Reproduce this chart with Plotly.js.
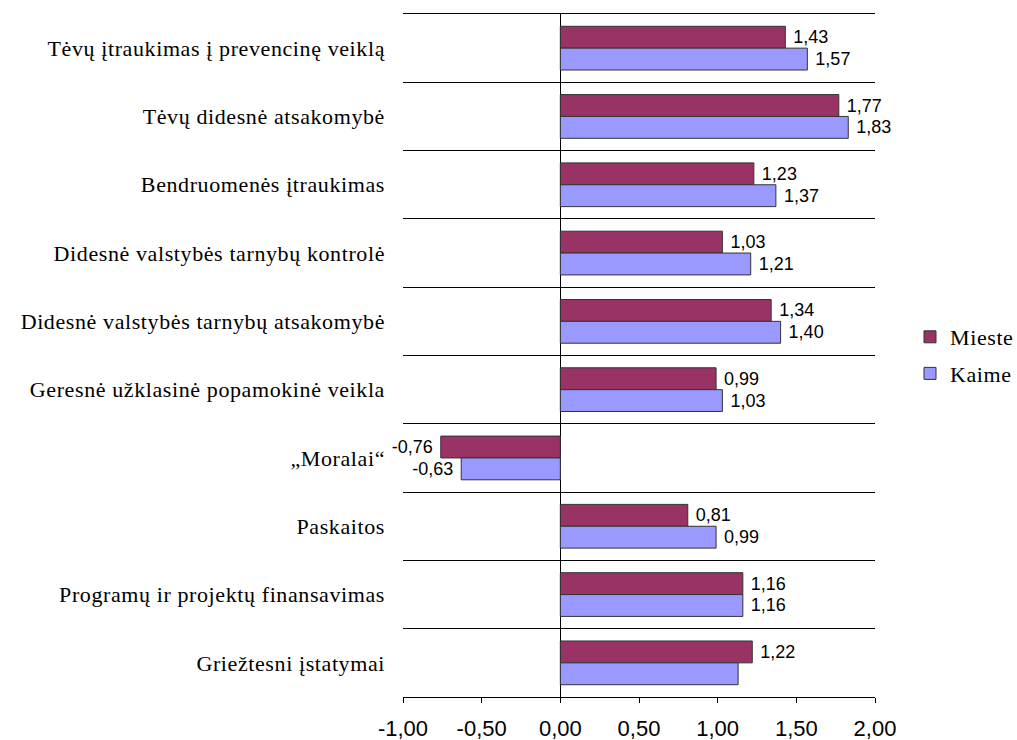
<!DOCTYPE html>
<html>
<head>
<meta charset="utf-8">
<script src="https://cdn.plot.ly/plotly-3.0.1.min.js"></script>
<style>
html,body{margin:0;padding:0;background:#fff}
#chart{width:1017px;height:740px}
#chart .ytick text, #chart .legendtext { letter-spacing: 0.6px; }
</style>
</head>
<body>
<div id="chart"></div>
<script>
const categories = [
  "Tėvų įtraukimas į prevencinę veiklą",
  "Tėvų didesnė atsakomybė",
  "Bendruomenės įtraukimas",
  "Didesnė valstybės tarnybų kontrolė",
  "Didesnė valstybės tarnybų atsakomybė",
  "Geresnė užklasinė popamokinė veikla",
  "„Moralai“",
  "Paskaitos",
  "Programų ir projektų finansavimas",
  "Griežtesni įstatymai"
];
const mieste = [1.43, 1.77, 1.23, 1.03, 1.34, 0.99, -0.76, 0.81, 1.16, 1.22];
const kaime  = [1.57, 1.83, 1.37, 1.21, 1.40, 1.03, -0.63, 0.99, 1.16, 1.13];
const kaimeLabelShown = [true, true, true, true, true, true, true, true, true, false];
const tickVals = [-1, -0.5, 0, 0.5, 1, 1.5, 2];
const tickText = ["-1,00", "-0,50", "0,00", "0,50", "1,00", "1,50", "2,00"];

function fmt(v) {
  const s = v.toFixed(2).replace('.', ',');
  return v < 0 ? s + '\u00a0' : '\u00a0' + s;
}

const SANS = "Liberation Sans";
const SERIF = "Liberation Serif";
const labelFont = {family: SANS, size: 18, color: '#000'};

const traces = [
  {
    type: 'bar', orientation: 'h', name: 'Mieste',
    y: categories, x: mieste,
    text: mieste.map(fmt), textposition: 'outside', cliponaxis: false,
    textfont: labelFont,
    marker: {color: '#993366', line: {color: '#333333', width: 1}},
    legendgroup: 'a', hoverinfo: 'x+y'
  },
  {
    type: 'bar', orientation: 'h', name: 'Kaime',
    y: categories, x: kaime,
    text: kaime.map((v, i) => kaimeLabelShown[i] ? fmt(v) : ''), textposition: 'outside', cliponaxis: false,
    textfont: labelFont,
    marker: {color: '#9999FF', line: {color: '#333333', width: 1}},
    legendgroup: 'b', hoverinfo: 'x+y'
  }
];

const layout = {
  width: 1017, height: 740,
  margin: {l: 403, r: 142, t: 14, b: 43, autoexpand: false},
  paper_bgcolor: '#fff', plot_bgcolor: '#fff',
  font: {family: SANS},
  barmode: 'group', bargap: 0.36, bargroupgap: 0,
  showlegend: true,
  legend: {
    xref: 'container', x: 0.8948, y: 0.5, xanchor: 'left', yanchor: 'middle',
    font: {family: SERIF, size: 22, color: '#000'},
    traceorder: 'grouped', tracegroupgap: 5, bgcolor: 'rgba(0,0,0,0)'
  },
  xaxis: {
    range: [-1, 2], tickvals: tickVals, ticktext: tickText,
    ticks: 'outside', ticklen: 5, tickcolor: '#000', tickwidth: 1,
    showgrid: false, zeroline: true, zerolinecolor: '#000', zerolinewidth: 1,
    showline: true, linecolor: '#000', linewidth: 1, mirror: true,
    tickfont: {family: SANS, size: 22, color: '#000'},
    ticklabelstandoff: 7, fixedrange: true
  },
  yaxis: {
    type: 'category', autorange: 'reversed', tickson: 'boundaries',
    showgrid: true, gridcolor: '#000', gridwidth: 1,
    ticks: '', showline: false, zeroline: false,
    tickfont: {family: SERIF, size: 22, color: '#000'},
    ticklabelstandoff: 17, fixedrange: true
  }
};

Plotly.newPlot('chart', traces, layout, {displayModeBar: false, staticPlot: true});
</script>
</body>
</html>
